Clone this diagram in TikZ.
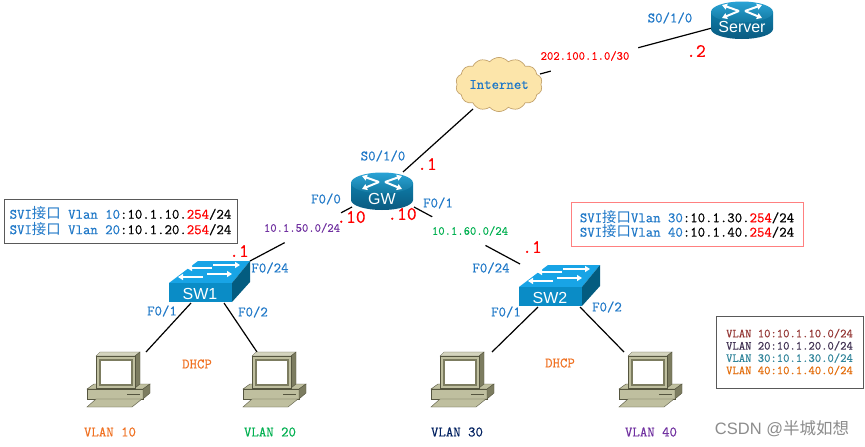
\documentclass[tikz,border=0pt]{standalone}
\usepackage{fontspec}
\setsansfont{Liberation Sans}
\setmonofont{Latin Modern Mono}[FakeBold=0.5]
\newfontfamily\cjk{Noto Sans CJK SC}
\usetikzlibrary{shapes.symbols,arrows.meta}
\newcommand{\fsz}[1]{\fontsize{#1}{#1}\selectfont}
\newcommand{\cn}[1]{{\cjk #1}}
\definecolor{lblue}{HTML}{1F78C8}
\definecolor{rd}{HTML}{FF0000}
\definecolor{topA}{HTML}{2AA3D6}
\definecolor{topB}{HTML}{13789F}
\definecolor{bodyA}{HTML}{0E7CA8}
\definecolor{bodyB}{HTML}{0A5A80}
\definecolor{swTop}{HTML}{18A4E6}
\definecolor{swFront}{HTML}{0A8CC6}
\definecolor{swSide}{HTML}{035C80}
\definecolor{pcFace}{HTML}{BFBF9F}
\definecolor{pcSide}{HTML}{7C7C60}
\definecolor{pcTop}{HTML}{D4D4BE}
\definecolor{pcLine}{HTML}{55553F}
\tikzset{
  link/.style={black,line width=1.2pt},
  gap/.style={white,line width=4pt},
  lbl/.style={font=\ttfamily\fsz{14.4},text=lblue,inner sep=0pt},
  small/.style={font=\ttfamily\fsz{12.3},inner sep=0pt},
  host/.style={font=\ttfamily\fsz{19},text=rd,inner sep=0pt},
  vl/.style={font=\ttfamily\fsz{14.4},inner sep=0pt},
  devname/.style={font=\sffamily\fsz{16},text=white,inner sep=0pt},
  infobox/.style={draw=#1,line width=0.8pt,fill=white,inner sep=0pt,align=left},
  rarrow/.style={white,line width=2pt,-{Triangle[length=5pt,width=6pt]}},
  router/.pic={
    \path[top color=bodyA,bottom color=bodyB] (-31,-3) -- (-31,14) arc[start angle=180,end angle=0,x radius=31,y radius=10] -- (31,-3) -- cycle;
    \path[top color=topA,bottom color=topB] (0,-3) ellipse[x radius=31,y radius=10.5];
    \draw[rarrow] (-3,-4) -- (-20,-10);
    \draw[rarrow] (3,-4) -- (20,-10);
    \draw[rarrow] (-3,-4) -- (-20,3);
    \draw[rarrow] (3,-4) -- (20,3);
  },
  switch/.pic={
    \fill[swTop] (0,0) -- (29,-22) -- (81,-22) -- (63,0) -- cycle;
    \fill[swFront] (0,0) rectangle (63,19);
    \fill[swSide] (63,0) -- (81,-22) -- (81,-1) -- (63,19) -- cycle;
    \draw[rarrow] (43,-15) -- (18,-15);
    \draw[rarrow] (44,-18) -- (71,-18);
    \draw[rarrow] (34,-6) -- (9,-6);
    \draw[rarrow] (38,-9) -- (63,-9);
  },
  pc/.pic={
    \fill[pcFace,draw=pcLine,line width=.4pt] (0,37) -- (7,32) -- (63,32) -- (56,37) -- cycle;
    \fill[pcFace,draw=pcLine,line width=.4pt] (0,37) rectangle (56,47);
    \fill[pcSide,draw=pcLine,line width=.4pt] (56,37) -- (63,32) -- (63,41) -- (56,47) -- cycle;
    \draw[pcLine,line width=1pt] (40,42) -- (53,42);
    \fill[pcFace,draw=pcLine,line width=.4pt] (9,47) -- (55,47) -- (45,55) -- (0,55) -- cycle;
    \fill[pcTop,draw=pcLine,line width=.3pt] (9,4) -- (13,0) -- (53,0) -- (48,4) -- cycle;
    \fill[pcSide,draw=pcLine,line width=.4pt] (48,4) -- (53,0) -- (53,32) -- (48,36) -- cycle;
    \fill[pcFace,draw=pcLine,line width=.4pt] (9,4) rectangle (48,36);
    \fill[white,draw=pcSide,line width=1.2pt] (13,8) rectangle (45,33);
  }
}
\begin{document}
\begin{tikzpicture}[x=1pt,y=-1pt]
\useasboundingbox (0,0) rectangle (865,447);
\fill[white] (0,0) rectangle (865,447);
% connector end points
\coordinate (srvL) at (712,28);
\coordinate (cloudR) at (540,74);
\coordinate (cloudB) at (473,109);
\coordinate (gwT) at (403,172);
\coordinate (gwL) at (352,207);
\coordinate (gwR) at (414,207);
\coordinate (sw1T) at (250,261);
\coordinate (sw2T) at (520,264);
\coordinate (sw1L) at (191,303);
\coordinate (sw1R) at (224,303);
\coordinate (sw2L) at (538,307);
\coordinate (sw2R) at (580,307);
\coordinate (pc1T) at (146,352);
\coordinate (pc2T) at (257,352);
\coordinate (pc3T) at (492,352);
\coordinate (pc4T) at (624,352);
% connectors
\draw[link] (cloudR) -- (srvL);
\draw[link] (cloudB) -- (gwT);
\draw[link] (gwL) -- (sw1T);
\draw[link] (gwR) -- (sw2T);
\draw[link] (sw1L) -- (pc1T);
\draw[link] (sw1R) -- (pc2T);
\draw[link] (sw2L) -- (pc3T);
\draw[link] (sw2R) -- (pc4T);
% the labels interrupt three of the links
\draw[gap] (551,71) -- (638,47.5);
\draw[gap] (341,213) -- (285,243);
\draw[gap] (432,217.5) -- (485,246);
% devices
\pic at (742,15) {router};
\pic at (382,186) {router};
\pic at (169,283) {switch};
\pic at (519,287) {switch};
\pic at (87,352) {pc};
\pic at (243,352) {pc};
\pic at (431,352) {pc};
\pic at (619,352) {pc};
\node[cloud,cloud puffs=14,cloud puff arc=100,aspect=1.8,minimum width=76pt,minimum height=44pt,draw={rgb,255:red,196;green,164;blue,110},fill={rgb,255:red,252;green,229;blue,170},line width=.7pt,lbl] (internet) at (499,84.5) {Internet};
\node[devname] (server) at (742,27) {Server};
\node[devname] (gw) at (382,199) {GW};
\node[devname] (sw1) at (200,294) {SW1};
\node[devname] (sw2) at (550,298) {SW2};
% subnet labels
\node[small,text=rd] (wan) at (585,56) {202.100.1.0/30};
\node[small,text={rgb,255:red,112;green,48;blue,160}] (n50) at (302,228) {10.1.50.0/24};
\node[small,text={rgb,255:red,0;green,176;blue,80}] (n60) at (470,231) {10.1.60.0/24};
% port labels
\node[lbl] (p1) at (670,18) {S0/1/0};
\node[lbl] (p2) at (383,156) {S0/1/0};
\node[lbl] (p3) at (326,199) {F0/0};
\node[lbl] (p4) at (438,203) {F0/1};
\node[lbl] (p5) at (270,268) {F0/24};
\node[lbl] (p6) at (162,311) {F0/1};
\node[lbl] (p7) at (253,312) {F0/2};
\node[lbl] (p8) at (491,268) {F0/24};
\node[lbl] (p9) at (506,312) {F0/1};
\node[lbl] (p10) at (607,307) {F0/2};
% host addresses
\node[host] (h1) at (696,51) {.2};
\node[host] (h2) at (427,164) {.1};
\node[host] (h3) at (351,217) {.10};
\node[host] (h4) at (402,214) {.10};
\node[host] (h5) at (239,251) {.1};
\node[host] (h6) at (532,247) {.1};
% DHCP + VLAN
\node[vl,text={rgb,255:red,240;green,112;blue,32}] (d1) at (197,364) {DHCP};
\node[vl,text={rgb,255:red,240;green,112;blue,32}] (d2) at (560,363) {DHCP};
\node[vl,text={rgb,255:red,240;green,112;blue,32}] (v10) at (110,432) {VLAN 10};
\node[vl,text={rgb,255:red,0;green,176;blue,80}] (v20) at (270,432) {VLAN 20};
\node[vl,text={rgb,255:red,0;green,32;blue,96}] (v30) at (457,432) {VLAN 30};
\node[vl,text={rgb,255:red,112;green,48;blue,160}] (v40) at (651,432) {VLAN 40};
% info boxes
\node[infobox=black!65,minimum width=233pt,minimum height=44pt,font=\ttfamily\fsz{14.4}] (box1) at (120.5,221) {%
  \setlength{\baselineskip}{18pt}\textcolor{lblue}{SVI\cn{接口} Vlan 10}:10.1.10.\textcolor{rd}{254}/24\\[1pt]
  \textcolor{lblue}{SVI\cn{接口} Vlan 20}:10.1.20.\textcolor{rd}{254}/24};
\node[infobox=red!50!white,minimum width=232pt,minimum height=44pt,font=\ttfamily\fsz{14.4}] (box2) at (687,224) {%
  \setlength{\baselineskip}{17pt}\textcolor{lblue}{SVI\cn{接口}Vlan 30}:10.1.30.\textcolor{rd}{254}/24\\[0pt]
  \textcolor{lblue}{SVI\cn{接口}Vlan 40}:10.1.40.\textcolor{rd}{254}/24};
\node[infobox=black!65,minimum width=147pt,minimum height=72pt,font=\ttfamily\fsz{12.3}] (box3) at (789.5,352) {%
  \setlength{\baselineskip}{15pt}\textcolor[HTML]{943634}{VLAN 10:10.1.10.0/24}\\[0pt]
  \textcolor[HTML]{403152}{VLAN 20:10.1.20.0/24}\\[0pt]
  \textcolor[HTML]{31859B}{VLAN 30:10.1.30.0/24}\\[0pt]
  \textcolor[HTML]{E36C0A}{VLAN 40:10.1.40.0/24}};
% watermark
\node[font=\sffamily\fsz{16.5},text=black!45,inner sep=0pt] (mark) at (782,429) {CSDN @\cn{半城如想}};
\end{tikzpicture}
\end{document}
